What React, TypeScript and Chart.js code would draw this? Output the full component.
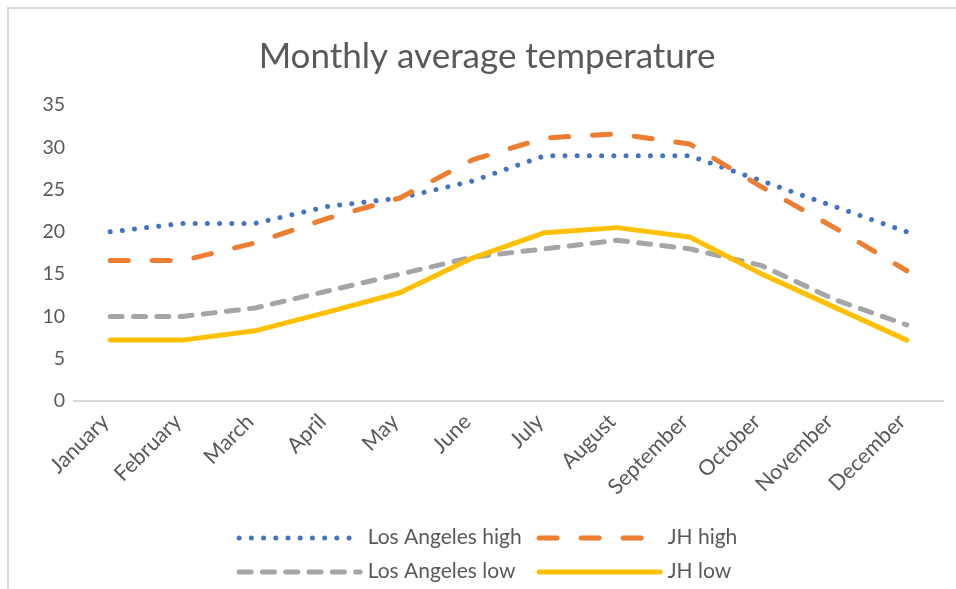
import React, { useEffect, useRef } from 'react';
import { Chart, registerables } from 'chart.js';

Chart.register(...registerables);

const TITLE = 'Monthly average temperature';
const MONTHS = ['January', 'February', 'March', 'April', 'May', 'June', 'July', 'August', 'September', 'October', 'November', 'December'];
const LA_HIGH = [20, 21, 21, 23, 24, 26, 29, 29, 29, 26, 23, 20];
const JH_HIGH = [16.6, 16.6, 18.7, 21.6, 24, 28.5, 31.1, 31.6, 30.4, 25.3, 20.5, 15.4];
const LA_LOW = [10, 10, 11, 13, 15, 17, 18, 19, 18, 16, 12, 9];
const JH_LOW = [7.2, 7.2, 8.3, 10.5, 12.8, 16.9, 19.9, 20.5, 19.4, 15, 11.1, 7.2];
const Y_MIN = 0;
const Y_MAX = 35;
const Y_STEP = 5;

const FONT = 'Lato, "Open Sans", sans-serif';
const TEXT = '#595959';
const PAD_LEFT = 31;
const PAD_RIGHT = 13;

const legendPlugin = {
  id: 'excelLegend',
  afterDraw(chart: any) {
    const ctx = chart.ctx;
    const ds = chart.data.datasets;
    const center = (PAD_LEFT + chart.width - PAD_RIGHT) / 2;
    ctx.save();
    ctx.font = `21px ${FONT}`;
    const sampleW = 126;
    const gap = 5;
    const colW = 300;
    const lastW = Math.max(ctx.measureText(ds[1].label).width, ctx.measureText(ds[3].label).width);
    const blockW = colW + sampleW + gap + lastW;
    const x0 = center - blockW / 2;
    const base = chart.chartArea.bottom;
    const rows = [base + 136, base + 170];
    for (let i = 0; i < ds.length; i++) {
      const d = ds[i];
      const row = Math.floor(i / 2);
      const col = i % 2;
      const x = x0 + col * colW;
      const y = rows[row];
      const cap = d.borderWidth / 2;
      ctx.save();
      ctx.strokeStyle = d.borderColor;
      ctx.lineWidth = d.borderWidth;
      ctx.lineCap = d.borderCapStyle || 'butt';
      ctx.setLineDash(d.borderDash || []);
      ctx.beginPath();
      ctx.moveTo(x + cap, y + 1);
      ctx.lineTo(x + sampleW - cap, y + 1);
      ctx.stroke();
      ctx.restore();
      ctx.fillStyle = TEXT;
      ctx.textBaseline = 'middle';
      ctx.textAlign = 'left';
      ctx.fillText(d.label, x + sampleW + gap, y);
    }
    ctx.restore();
  },
};

export default function App() {
  const ref = useRef<HTMLCanvasElement | null>(null);

  useEffect(() => {
    if (!ref.current) return;
    const chart = new Chart(ref.current, {
      type: 'line',
      data: {
        labels: MONTHS,
        datasets: [
          {
            label: 'Los Angeles high',
            data: LA_HIGH,
            borderColor: '#4472C4',
            backgroundColor: '#4472C4',
            borderWidth: 5,
            borderDash: [0.01, 12.2],
            borderCapStyle: 'round',
            borderJoinStyle: 'round',
            pointRadius: 0,
            tension: 0,
            order: 4,
          },
          {
            label: 'JH high',
            data: JH_HIGH,
            borderColor: '#ED7D31',
            backgroundColor: '#ED7D31',
            borderWidth: 5,
            borderDash: [18, 24],
            borderCapStyle: 'round',
            borderJoinStyle: 'round',
            pointRadius: 0,
            tension: 0,
            order: 3,
          },
          {
            label: 'Los Angeles low',
            data: LA_LOW,
            borderColor: '#A5A5A5',
            backgroundColor: '#A5A5A5',
            borderWidth: 5,
            borderDash: [12, 11.3],
            borderCapStyle: 'round',
            borderJoinStyle: 'round',
            pointRadius: 0,
            tension: 0,
            order: 2,
          },
          {
            label: 'JH low',
            data: JH_LOW,
            borderColor: '#FFC000',
            backgroundColor: '#FFC000',
            borderWidth: 5,
            borderCapStyle: 'round',
            borderJoinStyle: 'round',
            pointRadius: 0,
            tension: 0,
            order: 1,
          },
        ],
      },
      options: {
        responsive: false,
        animation: false,
        layout: { padding: { left: PAD_LEFT, right: PAD_RIGHT, top: 0, bottom: 78 } },
        plugins: {
          legend: { display: false },
          tooltip: { enabled: false },
          title: {
            display: true,
            text: TITLE,
            color: TEXT,
            font: { family: FONT, size: 35, weight: 'normal', lineHeight: 1.2 },
            padding: { top: 36, bottom: 27 },
          },
        },
        scales: {
          x: {
            offset: true,
            grid: { display: false, drawTicks: false },
            border: { display: true, color: '#d9d9d9', width: 2 },
            ticks: {
              color: TEXT,
              font: { family: FONT, size: 21.5 },
              maxRotation: 45,
              minRotation: 45,
              autoSkip: false,
              padding: 8,
              labelOffset: -5,
            },
            afterFit: (s: any) => { s.height = 110; },
          },
          y: {
            min: Y_MIN,
            max: Y_MAX,
            grid: { display: false, drawTicks: false },
            border: { display: false },
            ticks: {
              stepSize: Y_STEP,
              color: TEXT,
              font: { family: FONT, size: 19.5 },
              padding: 9,
            },
            afterFit: (s: any) => { s.width = 74 - PAD_LEFT; },
          },
        },
      },
      plugins: [legendPlugin],
    } as any);
    return () => chart.destroy();
  }, []);

  return (
    <div style={{ position: 'fixed', left: 0, top: 0, width: 956, height: 589, overflow: 'hidden', background: '#fff' }}>
      <div style={{ position: 'absolute', left: 7, top: 7, width: 1000, height: 1000, borderLeft: '2px solid #d9d9d9', borderTop: '2px solid #d9d9d9' }} />
      <canvas ref={ref} width={956} height={589} style={{ position: 'absolute', left: 0, top: 0, width: 956, height: 589 }} />
    </div>
  );
}
